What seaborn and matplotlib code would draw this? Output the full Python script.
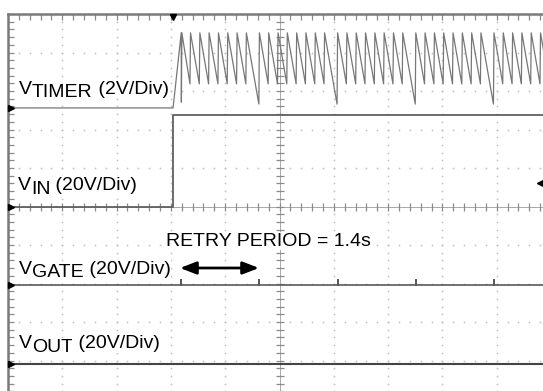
import numpy as np
import pandas as pd
import seaborn as sns
import matplotlib
matplotlib.use("Agg")
import matplotlib.pyplot as plt

# ---------------- data (time in s, 1 s/div; t=0 at trigger) ----------------
timer_t = [-3.04, 0.000, 0.150, 0.153, 0.162,
           0.311, 0.321, 0.483, 0.493, 0.654, 0.664, 0.826, 0.836, 0.997, 1.007, 1.169, 1.179, 1.340, 1.350, 1.580, 1.590,
           1.751, 1.761, 1.923, 1.933, 2.094, 2.104, 2.266, 2.276, 2.437, 2.447, 2.609, 2.619, 2.780, 2.790, 3.020, 3.030,
           3.191, 3.201, 3.363, 3.373, 3.534, 3.544, 3.706, 3.716, 3.877, 3.887, 4.049, 4.059, 4.220, 4.230, 4.460, 4.470,
           4.631, 4.641, 4.803, 4.813, 4.974, 4.984, 5.146, 5.156, 5.317, 5.327, 5.489, 5.499, 5.660, 5.670, 5.900, 5.910,
           6.071, 6.081, 6.243, 6.253, 6.414, 6.424, 6.586, 6.596, 6.757, 6.767, 6.929, 6.939]
timer_v = [0.0, 0.0, 3.9, 0.3, 3.9,
           1.25, 3.9, 1.25, 3.9, 1.25, 3.9, 1.25, 3.9, 1.25, 3.9, 1.25, 3.9, 1.25, 3.9, 0.2, 3.9,
           1.25, 3.9, 1.25, 3.9, 1.25, 3.9, 1.25, 3.9, 1.25, 3.9, 1.25, 3.9, 1.25, 3.9, 0.2, 3.9,
           1.25, 3.9, 1.25, 3.9, 1.25, 3.9, 1.25, 3.9, 1.25, 3.9, 1.25, 3.9, 1.25, 3.9, 0.2, 3.9,
           1.25, 3.9, 1.25, 3.9, 1.25, 3.9, 1.25, 3.9, 1.25, 3.9, 1.25, 3.9, 1.25, 3.9, 0.2, 3.9,
           1.25, 3.9, 1.25, 3.9, 1.25, 3.9, 1.25, 3.9, 1.25, 3.9, 1.25, 3.9]

vin_t = [-3.04, 0.0, 0.0, 6.96]
vin_v = [0.0, 0.0, 47.5, 47.5]

gate_t = [-3.04, 0.15, 0.15, 0.15, 1.59, 1.59, 1.59, 3.03, 3.03, 3.03,
          4.47, 4.47, 4.47, 5.91, 5.91, 5.91, 6.96]
gate_v = [0.0, 0.0, 2.6, 0.0, 0.0, 2.6, 0.0, 0.0, 2.6, 0.0,
          0.0, 2.6, 0.0, 0.0, 2.6, 0.0, 0.0]

vout_t = [-3.04, 6.96]
vout_v = [0.0, 0.0]

# ---------------- figure ----------------
sns.set_theme(style="white")
plt.rcParams["font.family"] = ["Liberation Sans", "DejaVu Sans"]

W, H = 543, 391
fig = plt.figure(figsize=(W / 100, H / 100), dpi=100)
fig.patch.set_facecolor("white")
ax = fig.add_axes([8 / W, (H - 399) / H, 543 / W, 385 / H])
ax.set_xlim(0, 10)
ax.set_ylim(0, 10)
ax.set_facecolor("white")

T0 = 3.04  # trigger position in divisions from the left


def screen(t, v, off, scale):
    return np.asarray(t) + T0, off + np.asarray(v) / scale


# grid dots
sub = np.arange(0, 10.001, 0.2)
for g in range(1, 10):
    if g == 5:
        continue
    ax.plot([g] * len(sub), sub, ls="none", marker="o", ms=1.3, mew=0, color="#c4c4c4", zorder=1)
    ax.plot(sub, [g] * len(sub), ls="none", marker="o", ms=1.3, mew=0, color="#c4c4c4", zorder=1)

# centre cross-hair with ticks
ax.axvline(5, color="#a8a8a8", lw=0.7, zorder=1)
ax.axhline(5, color="#a8a8a8", lw=0.7, zorder=1)
ax.plot([5] * len(sub), sub, ls="none", marker="_", ms=6, mew=0.9, color="#8a8a8a", zorder=1)
ax.plot(sub, [5] * len(sub), ls="none", marker="|", ms=6, mew=0.9, color="#8a8a8a", zorder=1)

# frame
for s in ["right", "bottom"]:
    ax.spines[s].set_visible(False)
for s in ["top", "left"]:
    ax.spines[s].set_color("#7a7a7a")
    ax.spines[s].set_linewidth(1.8)
ax.set_xticks(sub)
ax.set_yticks(sub)
ax.tick_params(axis="x", top=True, bottom=False, labeltop=False, labelbottom=False,
               direction="in", length=4, width=0.9, color="#8a8a8a")
ax.tick_params(axis="y", left=True, right=False, labelleft=False, labelright=False,
               direction="in", length=4, width=0.9, color="#8a8a8a")
ax.grid(False)
ax.set_xlabel("")
ax.set_ylabel("")

# traces
x, y = screen(timer_t, timer_v, 7.56, 2)
sns.lineplot(x=x, y=y, sort=False, estimator=None, color="#777777", lw=0.9, ax=ax, zorder=3)
x, y = screen(vin_t, vin_v, 5.0, 20)
sns.lineplot(x=x, y=y, sort=False, estimator=None, color="#606060", lw=1.3, ax=ax, zorder=3)
x, y = screen(gate_t, gate_v, 2.95, 20)
sns.lineplot(x=x, y=y, sort=False, estimator=None, color="#5a5a5a", lw=1.2, ax=ax, zorder=3)
x, y = screen(vout_t, vout_v, 0.91, 20)
sns.lineplot(x=x, y=y, sort=False, estimator=None, color="#444444", lw=1.5, ax=ax, zorder=3)

# channel markers
for off in [7.56, 5.0, 2.95, 0.91]:
    ax.plot([0.06], [off], marker=">", ms=4.5, color="black", clip_on=False, zorder=5)
ax.plot([T0], [9.92], marker="v", ms=5, color="black", clip_on=False, zorder=5)
ax.plot([9.8], [5.61], marker="<", ms=4.5, color="black", clip_on=False, zorder=5)

# labels
FS = 14
bb = dict(facecolor="white", edgecolor="none", pad=0.6)


def label(px, base, main, subs, rest, drop=3.5):
    a1 = ax.annotate(main, xy=(px, H - base), xycoords="figure pixels", va="baseline",
                     ha="left", fontsize=FS, color="black", bbox=bb, zorder=6)
    a2 = ax.annotate(subs, xy=(1, 0), xycoords=a1, xytext=(0, -drop), textcoords="offset pixels",
                     va="bottom", ha="left", fontsize=FS, color="black", bbox=bb, zorder=6)
    ax.annotate(rest, xy=(1, 0), xycoords=a2, xytext=(0, drop), textcoords="offset pixels",
                va="bottom", ha="left", fontsize=FS, color="black", bbox=bb, zorder=6)


label(19, 93.5, "V", "TIMER", " (2V/Div)")
label(18, 190, "V", "IN", " (20V/Div)")
label(19, 273.5, "V", "GATE", " (20V/Div)")
label(19, 348.5, "V", "OUT", " (20V/Div)")

ax.annotate("RETRY PERIOD = 1.4s", xy=(166, H - 245.5), xycoords="figure pixels",
            va="baseline", ha="left", fontsize=FS, color="black", bbox=bb, zorder=6)

ax.annotate("", xy=(259, H - 268), xytext=(180, H - 268), xycoords="figure pixels",
            textcoords="figure pixels",
            arrowprops=dict(arrowstyle="<|-|>,head_length=0.65,head_width=0.25",
                            mutation_scale=15, color="black", lw=2, shrinkA=0, shrinkB=0),
            zorder=6)

fig.savefig("out.png", dpi=100, facecolor="white")
